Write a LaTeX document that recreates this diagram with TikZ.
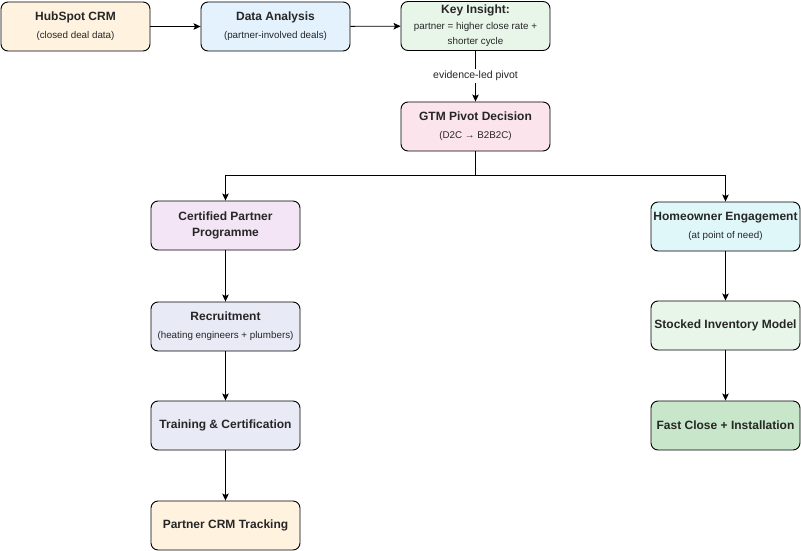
\documentclass[tikz,border=0pt]{standalone}
\usepackage{fontspec}
\setmainfont{Liberation Sans}
\usetikzlibrary{arrows.meta}
\definecolor{cOrange}{HTML}{FFF3E0}
\definecolor{cBlue}{HTML}{E3F2FD}
\definecolor{cGreen}{HTML}{E8F5E9}
\definecolor{cPink}{HTML}{FCE4EC}
\definecolor{cPurple}{HTML}{F3E5F5}
\definecolor{cIndigo}{HTML}{E8EAF6}
\definecolor{cCyan}{HTML}{E0F7FA}
\definecolor{cGreenD}{HTML}{C8E6C9}
\tikzset{
  box/.style={draw=black, line width=0.9pt, rounded corners=7pt, minimum width=149pt, minimum height=49pt, inner sep=0pt, align=center, text=black!85},
  conn/.style={draw=black, line width=0.9pt, -{Stealth[length=7pt,width=6.5pt,inset=1.5pt]}},
  ttl/.style={font=\fontsize{12}{16}\selectfont\bfseries},
}
\newcommand{\sbt}[1]{{\fontsize{9.8}{15.5}\selectfont #1}}
\begin{document}
\begin{tikzpicture}[x=1pt,y=-1pt]
\useasboundingbox (0,0) rectangle (801,551);
\node[box, fill=cOrange, font=\fontsize{12}{18}\selectfont] (hub) at (75.5,26.5) {\textbf{HubSpot CRM}\\\sbt{(closed deal data)}};
\node[box, fill=cBlue, font=\fontsize{12}{18}\selectfont] (data) at (275.5,26.5) {\textbf{Data Analysis}\\\sbt{(partner-involved deals)}};
\node[box, fill=cGreen, font=\fontsize{12}{15.5}\selectfont] (key) at (475.5,26) {\textbf{Key Insight:}\\\sbt{partner = higher close rate +}\\\sbt{shorter cycle}};
\node[box, fill=cPink, font=\fontsize{12}{18}\selectfont] (gtm) at (475.5,126.5) {\textbf{GTM Pivot Decision}\\\sbt{(D2C → B2B2C)}};
\node[box, fill=cPurple, ttl] (cert) at (225.5,225.5) {Certified Partner\\Programme};
\node[box, fill=cIndigo, font=\fontsize{12}{18}\selectfont] (rec) at (225.5,326.5) {\textbf{Recruitment}\\\sbt{(heating engineers + plumbers)}};
\node[box, fill=cIndigo, ttl] (train) at (225.5,425.5) {Training \& Certification};
\node[box, fill=cOrange, ttl] (pcrm) at (225.5,525.5) {Partner CRM Tracking};
\node[box, fill=cCyan, font=\fontsize{12}{18}\selectfont] (home) at (725.5,226.5) {\textbf{Homeowner Engagement}\\\sbt{(at point of need)}};
\node[box, fill=cGreen, ttl] (stock) at (725.5,325.5) {Stocked Inventory Model};
\node[box, fill=cGreenD, ttl] (fast) at (725.5,425.5) {Fast Close + Installation};
\coordinate (split) at (475.5,175.5);
\draw[conn] (hub) -- (data);
\draw[conn] (data) -- (key);
\draw[conn] (key) -- node[fill=white, inner sep=2pt, font=\fontsize{10.5}{12}\selectfont, text=black!85] {evidence-led pivot} (gtm);
\draw[line width=0.9pt] (gtm) -- (split);
\draw[conn] (split) -| (cert);
\draw[conn] (split) -| (home);
\draw[conn] (cert) -- (rec);
\draw[conn] (rec) -- (train);
\draw[conn] (train) -- (pcrm);
\draw[conn] (home) -- (stock);
\draw[conn] (stock) -- (fast);
\end{tikzpicture}
\end{document}
